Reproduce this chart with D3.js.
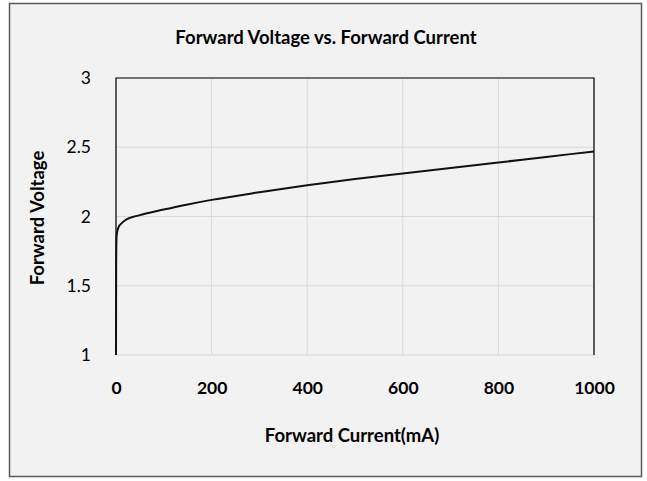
<!DOCTYPE html>
<html>
<head>
<meta charset="utf-8">
<script src="https://cdn.jsdelivr.net/npm/d3@7"></script>
<style>
  body { margin: 0; background: #fff; }
  text { font-family: Lato, "Open Sans", sans-serif; font-weight: bold; fill: #000; }
</style>
</head>
<body>
<script>
var svgWidth = 647;
var svgHeight = 481;

// forward current (mA) and forward voltage (V)
var current = [0, 0.3, 1, 2, 5, 10, 20, 50, 100, 150, 200, 300, 400, 500, 600, 700, 800, 900, 1000];
var voltage = [1.0, 1.6, 1.84, 1.88, 1.92, 1.945, 1.975, 2.01, 2.05, 2.087, 2.12, 2.175, 2.225, 2.27, 2.31, 2.35, 2.39, 2.43, 2.47];

var xTicks = [0, 200, 400, 600, 800, 1000];
var yTicks = [1, 1.5, 2, 2.5, 3];

var margin = { top: 78, right: 53, bottom: 126, left: 116 };
var width = svgWidth - margin.left - margin.right;
var height = svgHeight - margin.top - margin.bottom;

var svg = d3.select("body")
  .append("svg")
  .attr("width", svgWidth)
  .attr("height", svgHeight);

// chart area background + border
svg.append("rect")
  .attr("x", 9.5).attr("y", 3.5)
  .attr("width", 632).attr("height", 473)
  .attr("fill", "#f2f2f2")
  .attr("stroke", "#595959")
  .attr("stroke-width", 1.5);

svg.append("text")
  .attr("x", 326).attr("y", 44)
  .attr("text-anchor", "middle")
  .attr("font-size", "18.5px")
  .text("Forward Voltage vs. Forward Current");

var g = svg.append("g")
  .attr("transform", "translate(" + margin.left + "," + margin.top + ")");

var x = d3.scaleLinear().domain([0, 1000]).range([0, width]);
var y = d3.scaleLinear().domain([1, 3]).range([height, 0]);

// gridlines
g.selectAll(".vgrid")
  .data(xTicks)
  .enter()
  .append("line")
  .attr("x1", d => x(d)).attr("x2", d => x(d))
  .attr("y1", 0).attr("y2", height)
  .attr("stroke", "#d9d9d9")
  .attr("stroke-width", 1);

g.selectAll(".hgrid")
  .data(yTicks)
  .enter()
  .append("line")
  .attr("x1", 0).attr("x2", width)
  .attr("y1", d => y(d)).attr("y2", d => y(d))
  .attr("stroke", "#d9d9d9")
  .attr("stroke-width", 1);

// plot area border (top, left, right)
g.append("path")
  .attr("d", "M0," + height + "V0H" + width + "V" + height)
  .attr("fill", "none")
  .attr("stroke", "#000")
  .attr("stroke-width", 1.2);

var xAxis = d3.axisBottom(x).tickValues(xTicks).tickSize(0).tickPadding(27)
  .tickFormat(d3.format("d"));
var yAxis = d3.axisLeft(y).tickValues(yTicks).tickSize(0).tickPadding(25)
  .tickFormat(d3.format("~g"));

var xg = g.append("g")
  .attr("transform", "translate(0," + height + ")")
  .call(xAxis)
  .call(s => s.select(".domain").remove());

var yg = g.append("g")
  .call(yAxis)
  .call(s => s.select(".domain").remove());

g.selectAll(".tick text")
  .style("font-family", "Lato, sans-serif")
  .attr("font-size", "17.5px")
  .attr("fill", "#000");
xg.selectAll(".tick text").style("font-weight", "bold");
yg.selectAll(".tick text").style("font-weight", "normal");

var line = d3.line()
  .x((d, i) => x(current[i]))
  .y(d => y(d))
  .curve(d3.curveMonotoneX);

g.append("path")
  .datum(voltage)
  .attr("d", line)
  .attr("fill", "none")
  .attr("stroke", "#111")
  .attr("stroke-width", 2);

svg.append("text")
  .attr("x", 352).attr("y", 442)
  .attr("text-anchor", "middle")
  .attr("font-size", "18.5px")
  .text("Forward Current(mA)");

svg.append("text")
  .attr("transform", "translate(44," + 218 + ") rotate(-90)")
  .attr("text-anchor", "middle")
  .attr("font-size", "18.5px")
  .text("Forward Voltage");
</script>
</body>
</html>
